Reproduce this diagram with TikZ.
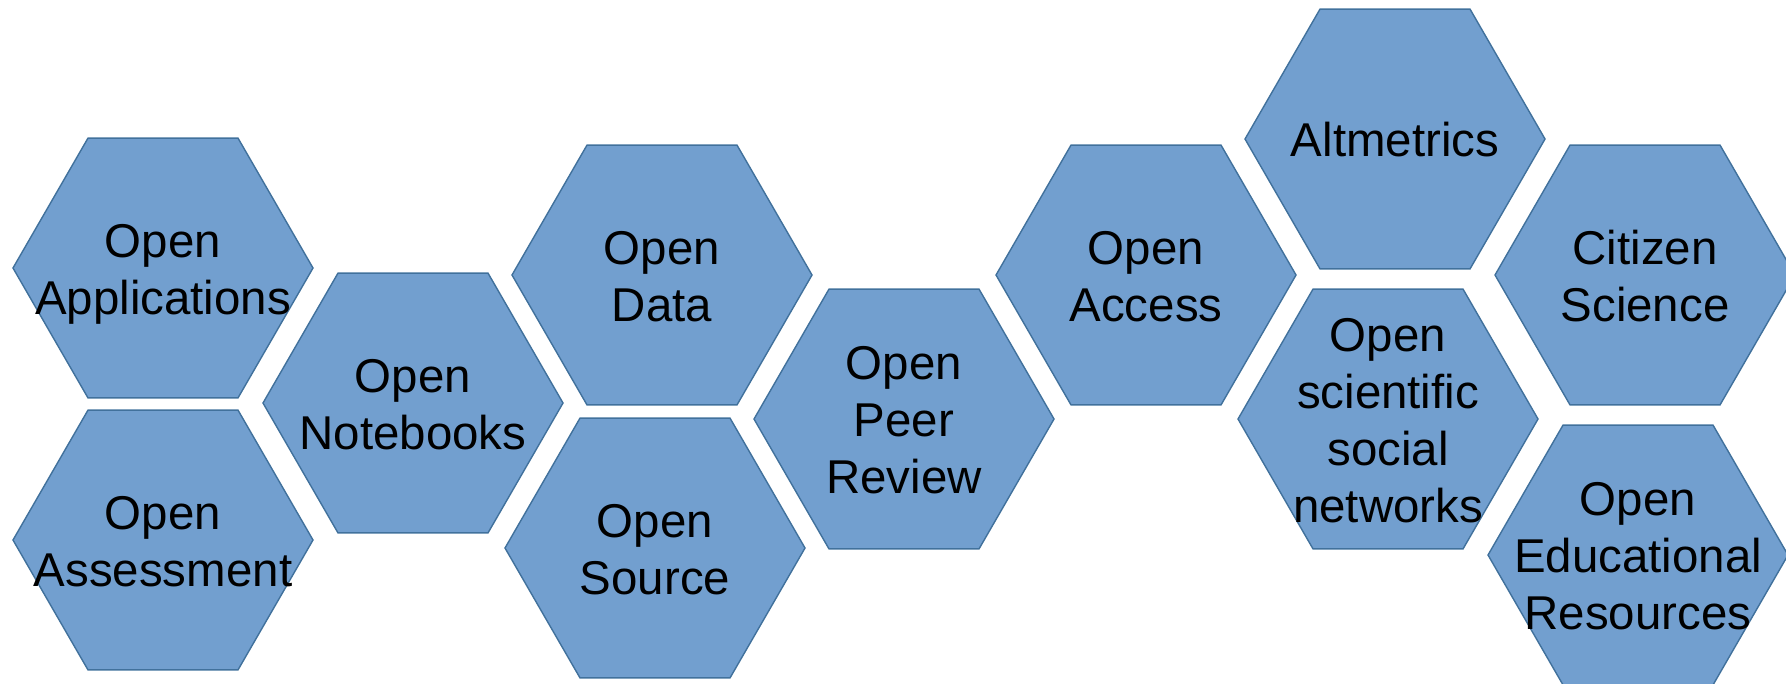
\documentclass[tikz,border=0pt]{standalone}
\usepackage{fontspec}
\setmainfont{Liberation Sans}
\usetikzlibrary{shapes.geometric}

\definecolor{hexfill}{RGB}{114,159,207}
\definecolor{hexline}{RGB}{65,113,156}

% text that may run over the hexagon border (takes no room in the node)
\newcommand{\hx}[1]{\makebox[0pt]{\raisebox{\dimexpr(\depth-\height)/2-1.8pt\relax}[0pt][0pt]{\begin{tabular}{@{}c@{}}#1\end{tabular}}}}

\begin{document}
\begin{tikzpicture}[
      x=0.1mm,
      y=-0.1mm,
      hexa/.style={
                regular polygon,
                regular polygon sides=6,
                draw=hexline,
                line width=0.4pt,
                fill=hexfill,
                inner sep=0pt,
                minimum size=30mm
                },
      every node/.style={font=\fontsize{13.5}{16.2}\selectfont}
]
\useasboundingbox (0,0) rectangle (1786,683);
\clip (0,0) rectangle (1786,683);

\node[hexa] (app) at (163,268) {\hx{Open\\Applications}};
\node[hexa] (assess) at (163,540) {\hx{Open\\Assessment}};
\node[hexa] (notebooks) at (413,403) {\hx{Open\\Notebooks}};

\node[hexa] (data) at (662,275) {\hx{Open\\Data}};
\node[hexa] (source) at (655,548) {\hx{Open\\Source}};
\node[hexa] (peer) at (904,419) {\hx{Open\\Peer\\Review}};

\node[hexa] (access) at (1146,275) {\hx{Open\\Access}};
\node[hexa] (altm) at (1395,139) {\hx{Altmetrics}};
\node[hexa] (socnet) at (1388,419) {\hx{Open\\scientific\\social\\networks}};

\node[hexa] (citizen) at (1645,275) {\hx{Citizen\\Science}};
\node[hexa] (oer) at (1638,555) {\hx{Open\\Educational\\Resources}};

\end{tikzpicture}
\end{document}
